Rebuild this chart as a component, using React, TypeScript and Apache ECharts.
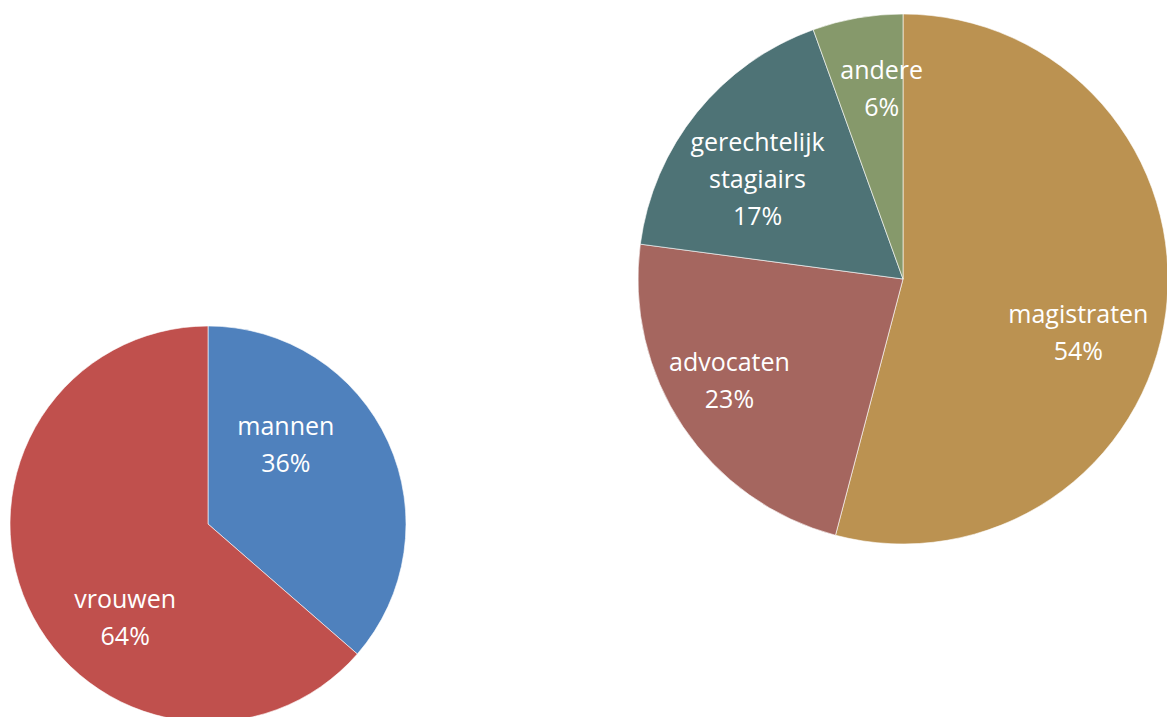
import React, { useEffect, useRef } from "react";
import * as echarts from "echarts";

const genderNames = ["mannen", "vrouwen"];
const genderValues = [36.4, 63.6];
const genderColors = ["#4F81BD", "#C0504D"];
const genderLabelOffsets = [[-15, -38], [10, 50]];

const roleNames = ["magistraten", "advocaten", "gerechtelijk\nstagiairs", "andere"];
const roleValues = [54.1, 23.0, 17.4, 5.5];
const roleColors = ["#BB9251", "#A5665F", "#4E7376", "#86996B"];
const roleLabelOffsets = [[41, 35], [-61, 25], [-40, -16], [2, -58]];

const labelStyle = {
  show: true,
  position: "inside",
  color: "#ffffff",
  fontFamily: "Open Sans",
  fontSize: 25,
  lineHeight: 37,
  formatter: "{b}\n{d}%",
};

export default function App() {
  const ref = useRef<HTMLDivElement>(null);
  useEffect(() => {
    if (!ref.current) return;
    const chart = echarts.init(ref.current, null, { renderer: "svg" });
    chart.setOption({
      animation: false,
      backgroundColor: "#ffffff",
      series: [
        {
          type: "pie",
          center: [208, 524],
          radius: 198,
          startAngle: 90,
          clockwise: true,
          percentPrecision: 0,
          labelLine: { show: false },
          label: labelStyle,
          itemStyle: { borderColor: "rgba(255,255,255,0.6)", borderWidth: 1 },
          emphasis: { disabled: true },
          data: genderNames.map((n, i) => ({
            name: n,
            value: genderValues[i],
            itemStyle: { color: genderColors[i] },
            label: { offset: genderLabelOffsets[i] },
          })),
        },
        {
          type: "pie",
          center: [903, 279],
          radius: 265,
          startAngle: 90,
          clockwise: true,
          percentPrecision: 0,
          labelLine: { show: false },
          label: labelStyle,
          itemStyle: { borderColor: "rgba(255,255,255,0.6)", borderWidth: 1 },
          emphasis: { disabled: true },
          data: roleNames.map((n, i) => ({
            name: n,
            value: roleValues[i],
            itemStyle: { color: roleColors[i] },
            label: { offset: roleLabelOffsets[i] },
          })),
        },
      ],
    });
    return () => chart.dispose();
  }, []);
  return (
    <div
      ref={ref}
      style={{ position: "fixed", left: 0, top: 0, width: 1167, height: 717 }}
    />
  );
}
